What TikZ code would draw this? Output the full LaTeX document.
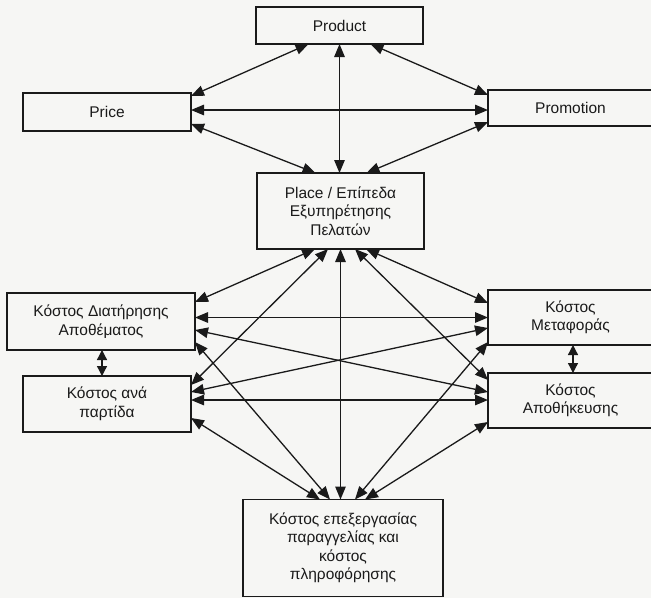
\documentclass[tikz,border=0pt]{standalone}
\usepackage{fontspec}
\setmainfont{Liberation Sans}
\usetikzlibrary{arrows.meta,calc}
\definecolor{paper}{HTML}{F6F6F4}
\definecolor{ink}{HTML}{1A1A1A}
\begin{document}
\begin{tikzpicture}[x=1pt,y=-1pt,
  box/.style={draw=ink, line width=1.4pt, text=ink, align=center,
    inner sep=0pt, outer sep=0pt,
    font=\fontsize{15.5}{18.5}\selectfont},
  link/.style={draw=ink, line width=1.3pt,
    {Triangle[length=13pt,width=10.5pt]}-{Triangle[length=13pt,width=10.5pt]}},
  shortlink/.style={draw=ink, line width=1.3pt,
    {Triangle[length=10pt,width=10pt]}-{Triangle[length=10pt,width=10pt]}}]

% page and background
\fill[paper] (0,0) rectangle (651,598);
\useasboundingbox (0,0) rectangle (651,598);

% boxes
\node[box, minimum width=167pt, minimum height=37pt] (prod)  at (339.5,25.5) {Product};
\node[box, minimum width=168pt, minimum height=38pt] (price) at (107,112) {Price};
\node[box, minimum width=165pt, minimum height=36pt] (promo) at (570.5,108) {Promotion};
\node[box, minimum width=167pt, minimum height=76pt] (place) at (340.5,211)
  {Place / Επίπεδα\\Εξυπηρέτησης\\Πελατών};
\node[box, minimum width=188pt, minimum height=57pt] (dia)   at (101,321.5)
  {Κόστος Διατήρησης\\Αποθέματος};
\node[box, minimum width=168pt, minimum height=56pt] (ana)   at (107,404)
  {Κόστος ανά\\παρτίδα};
\node[box, minimum width=165pt, minimum height=55pt] (met)   at (570.5,317.5)
  {Κόστος\\Μεταφοράς};
\node[box, minimum width=165pt, minimum height=55pt] (apo)   at (570.5,400.5)
  {Κόστος\\Αποθήκευσης};
\node[box, minimum width=200pt, minimum height=97pt] (ord)   at (343,548)
  {Κόστος επεξεργασίας\\παραγγελίας και\\κόστος\\πληροφόρησης};

% marketing mix links
\draw[link] ($(prod.south)+(-31,0)$) -- ($(price.east)+(0,-16)$);
\draw[link] (prod.south) -- (prod.south |- place.north);
\draw[link] ($(prod.south)+(31,0)$) -- ($(promo.west)+(0,-13)$);
\draw[link] ($(price.east)+(0,-2)$) -- ($(promo.west)+(0,2)$);
\draw[link] ($(price.east)+(0,12)$) -- ($(place.north)+(-25,0)$);
\draw[link] ($(promo.west)+(0,14)$) -- ($(place.north)+(26,0)$);

% service level to the cost boxes
\draw[link] ($(place.south)+(-25.5,0)$) -- ($(dia.east)+(0,-19.5)$);
\draw[link] ($(place.south)+(-12.5,0)$) -- ($(ana.east)+(0,-19)$);
\draw[link] (place.south) -- (place.south |- ord.north);
\draw[link] ($(place.south)+(14.5,0)$) -- ($(apo.west)+(0,-20.5)$);
\draw[link] ($(place.south)+(25.5,0)$) -- ($(met.west)+(0,-14.5)$);

% links between the cost boxes
\draw[link] ($(dia.east)+(0,-4)$) -- (met.west);
\draw[link] ($(dia.east)+(0,8.5)$) -- ($(apo.west)+(0,-8.5)$);
\draw[link] ($(ana.east)+(0,-12)$) -- ($(met.west)+(0,10.5)$);
\draw[link] ($(ana.east)+(0,-4)$) -- ($(apo.west)+(0,-0.5)$);

% links to order processing
\draw[link] ($(dia.east)+(0,20.5)$) -- ($(ord.north)+(-13,0)$);
\draw[link] ($(ana.east)+(0,14)$) -- ($(ord.north)+(-23,0)$);
\draw[link] ($(met.west)+(0,24.5)$) -- ($(ord.north)+(12,0)$);
\draw[link] ($(apo.west)+(0,21.5)$) -- ($(ord.north)+(22,0)$);

% short vertical links
\coordinate (dv) at ($(dia.south)+(1,0)$);
\draw[shortlink] (dv) -- (dv |- ana.north);
\coordinate (mv) at ($(met.south)+(2.5,0)$);
\draw[shortlink] (mv) -- (mv |- apo.north);
\end{tikzpicture}
\end{document}
